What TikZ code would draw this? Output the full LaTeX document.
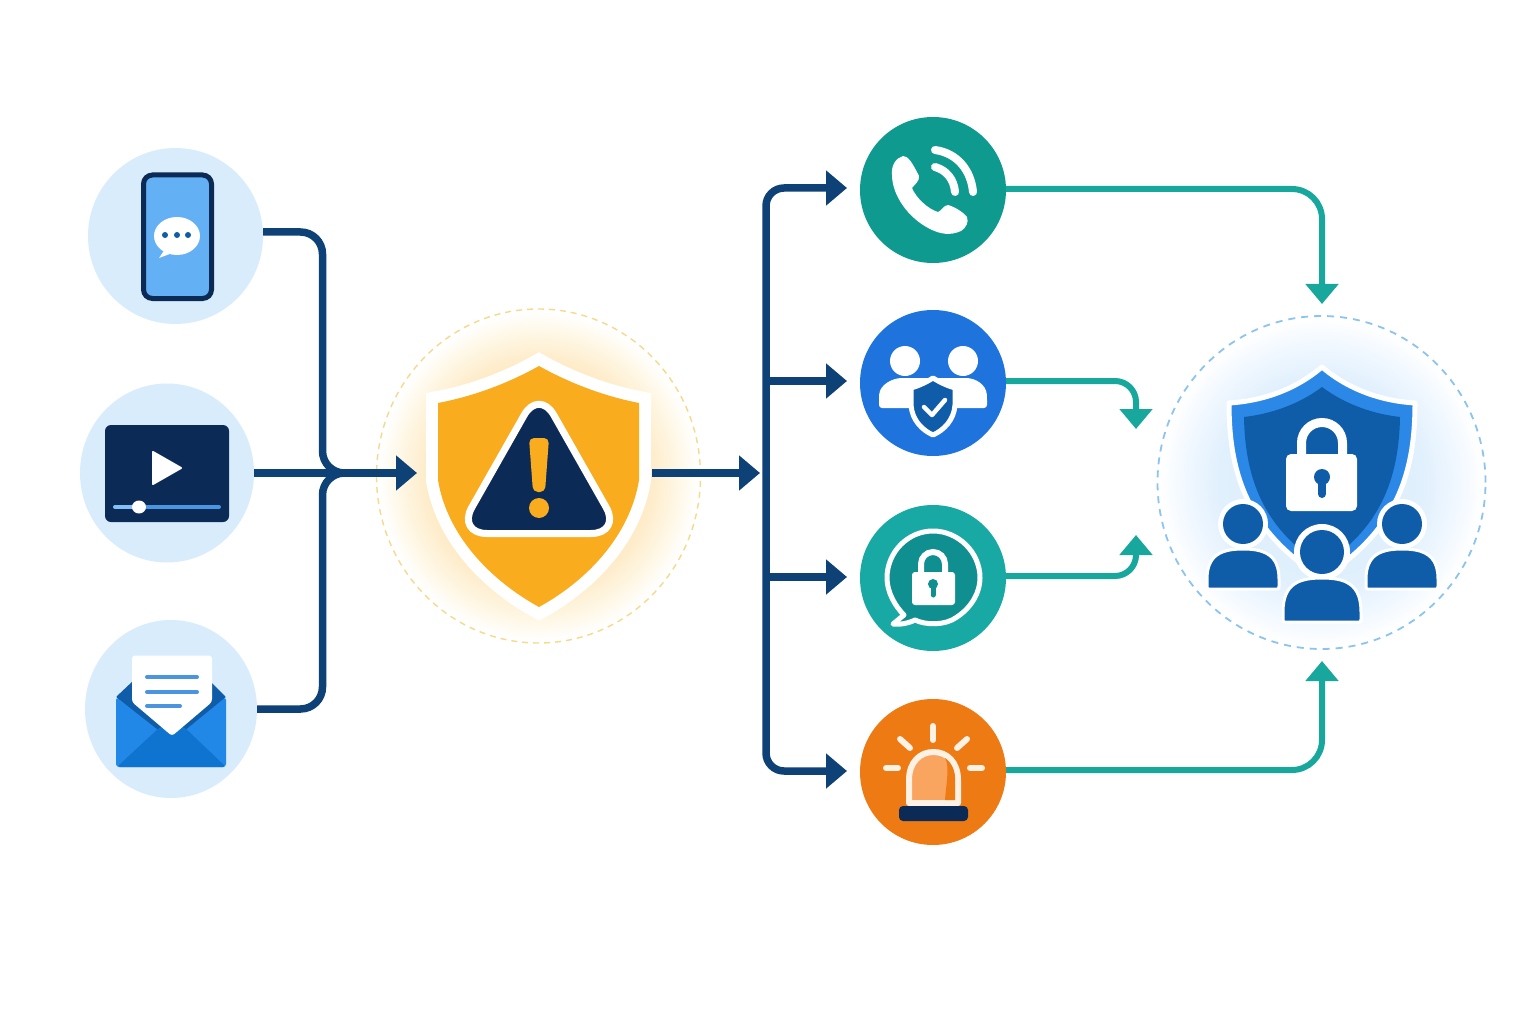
\documentclass[tikz,border=0pt]{standalone}
\usetikzlibrary{arrows.meta,shapes.geometric}
\definecolor{flowblue}{HTML}{0E4277}
\definecolor{flowteal}{HTML}{17A79D}
\definecolor{paleblue}{HTML}{D9ECFC}
\definecolor{navy}{HTML}{0B2A55}
\definecolor{amber}{HTML}{F8AC1E}
\definecolor{hubdark}{HTML}{0F5CA8}
\definecolor{hubmid}{HTML}{2B88E6}
\definecolor{skyblue}{HTML}{64B0F5}
\definecolor{barblue}{HTML}{4A94E0}
\definecolor{chteal}{HTML}{0F9A90}
\definecolor{chblue}{HTML}{1E74DC}
\definecolor{chaqua}{HTML}{18A9A4}
\definecolor{chorange}{HTML}{EE7A14}
\definecolor{cream}{HTML}{FFF1E4}
\definecolor{halogold}{HTML}{F6D98A}
\definecolor{haloblue}{HTML}{8CC4F0}
\definecolor{chatdark}{HTML}{0F8F90}
\definecolor{domefill}{HTML}{F9A560}
\definecolor{envfront}{HTML}{2288E8}
\definecolor{envlow}{HTML}{0E74D0}
\pgfdeclareradialshading{glowamber}{\pgfpoint{0bp}{0bp}}{rgb(0bp)=(0.99,0.89,0.70); rgb(17bp)=(0.995,0.92,0.78); rgb(21.5bp)=(0.998,0.97,0.90); rgb(24.7bp)=(1,1,1); rgb(50bp)=(1,1,1)}
\pgfdeclareradialshading{glowblue}{\pgfpoint{0bp}{0bp}}{rgb(0bp)=(0.87,0.93,0.99); rgb(15.5bp)=(0.88,0.94,0.99); rgb(20.5bp)=(0.94,0.97,1); rgb(24.7bp)=(1,1,1); rgb(50bp)=(1,1,1)}
\tikzset{
  srccircle/.style={ellipse,fill=paleblue,inner sep=0pt,outer sep=0pt},
  chcircle/.style={circle,inner sep=0pt,outer sep=0pt,minimum size=146pt},
  port/.style={inner sep=0pt,outer sep=0pt,draw=none},
  flow/.style={draw=flowblue,line width=7.5pt},
  flowtip/.style={flow,-{Triangle[length=21pt,width=34pt]}},
  tealflow/.style={draw=flowteal,line width=6pt,-{Triangle[length=20pt,width=32pt]}},
  ray/.style={draw=cream,line width=6pt,line cap=round},
}
\newcommand{\hubperson}[7]{% x, head y, head r, half width, top, bottom, ring
  \fill[white] (#1,#2) circle[radius=#3pt+#7pt];
  \filldraw[draw=white,line width=3pt,line join=round,fill=hubdark]
    ({#1-#4+2},#6) .. controls ({#1-#4},#6) .. ({#1-#4},{#6-3}) -- ({#1-#4},{#6-10}) .. controls ({#1-#4},{#5+6}) and ({#1-0.6*#4},#5) .. (#1,#5)
    .. controls ({#1+0.6*#4},#5) and ({#1+#4},{#5+6}) .. ({#1+#4},{#6-10}) -- ({#1+#4},{#6-3}) .. controls ({#1+#4},#6) .. ({#1+#4-2},#6) -- cycle;
  \fill[hubdark] (#1,#2) circle[radius=#3pt];
}
\begin{document}
\begin{tikzpicture}[x=1pt,y=-1pt]
\useasboundingbox (0,0) rectangle (1536,1024);
\fill[white] (0,0) rectangle (1536,1024);

% halos
\shade[shading=glowamber] (538.5,476) ellipse[x radius=162pt,y radius=167pt];
\draw[draw=halogold,line width=1.4pt,dash pattern=on 6pt off 5pt] (538.5,476) ellipse[x radius=162pt,y radius=167pt];
\shade[shading=glowblue] (1321.5,482.5) ellipse[x radius=164pt,y radius=166.5pt];
\draw[draw=haloblue,line width=1.8pt,dash pattern=on 7pt off 6pt] (1321.5,482.5) ellipse[x radius=164pt,y radius=166.5pt];

% nodes
\node[srccircle,minimum width=175pt,minimum height=176pt] (src1) at (175.5,236) {};
\node[srccircle,minimum width=174pt,minimum height=179pt] (src2) at (167,473) {};
\node[srccircle,minimum width=172pt,minimum height=178pt] (src3) at (171,709) {};
\node[chcircle,fill=chteal] (ch1) at (933,190) {};
\node[chcircle,fill=chblue] (ch2) at (933,383) {};
\node[chcircle,fill=chaqua] (ch3) at (933,578) {};
\node[chcircle,fill=chorange] (ch4) at (933,772) {};
\node[port,minimum width=235pt,minimum height=10pt] (alert) at (534.5,473) {};
\node[port,minimum width=10pt,minimum height=357pt] (hub) at (1322,482.5) {};
\coordinate (busin) at (760,473);
\coordinate (bus) at (766,473);
\coordinate (merge) at (352,473);
\coordinate (hubleft1) at (1136,429);
\coordinate (hubleft2) at (1136,535);

% input connectors
\draw[flow,rounded corners=22pt] ([yshift=4pt]src1.east) -- (322.5,232) -- (322.5,473) -- (merge);
\draw[flow,rounded corners=22pt] (src3.east) -- (322.5,709) -- (322.5,473) -- (merge);
\draw[flowtip] (src2.east) -- (alert.west);
\draw[flowtip] (alert.east) -- (busin);

% bus
\draw[flowtip,rounded corners=18pt] (bus) -- (766,188) -- ([xshift=-13pt,yshift=2pt]ch1.west);
\draw[flowtip,rounded corners=18pt] (bus) -- (766,771) -- ([xshift=-13pt,yshift=1pt]ch4.west);
\draw[flowtip] (766,381) -- ([xshift=-13pt,yshift=2pt]ch2.west);
\draw[flowtip] (766,577) -- ([xshift=-13pt,yshift=1pt]ch3.west);

% output connectors
\draw[tealflow,rounded corners=30pt] ([yshift=1pt]ch1.east) -- (1322,189) -- (hub.north);
\draw[tealflow,rounded corners=21pt] ([yshift=2pt]ch2.east) -- (1136,381) -- (hubleft1);
\draw[tealflow,rounded corners=21pt] ([yshift=2pt]ch3.east) -- (1136,576) -- (hubleft2);
\draw[tealflow,rounded corners=30pt] ([yshift=2pt]ch4.east) -- (1322,770) -- (hub.south);

% phone icon
\filldraw[draw=navy,line width=5pt,fill=skyblue,rounded corners=9pt] (143.5,175) rectangle (211.5,298.5);
\fill[white] (177,236) ellipse[x radius=23pt,y radius=19pt];
\fill[white] (165,249) -- (159,258) -- (175,252) -- cycle;
\fill[hubdark] (165,235) circle[radius=3pt] (177,235) circle[radius=3pt] (188,235) circle[radius=3pt];

% video icon
\fill[navy,rounded corners=6pt] (105,425) rectangle (229,522);
\fill[white,draw=white,line width=2pt,line join=round] (153,452) -- (181,468) -- (153,484) -- cycle;
\draw[barblue,line width=4pt,line cap=round] (139,507) -- (219,507);
\draw[skyblue!80!white,line width=4pt,line cap=round] (115,507) -- (139,507);
\fill[white] (139,507) ellipse[x radius=7pt,y radius=6.5pt];

% envelope icon
\fill[hubdark,rounded corners=1pt] (116,697) -- (133,681) -- (210,681) -- (226,697) -- (172,745) -- cycle;
\fill[envfront,rounded corners=3pt] (116,697) -- (172,741) -- (226,697) -- (226,767) -- (116,767) -- cycle;
\fill[envlow,rounded corners=3pt] (117,767) -- (160,727) -- (184,727) -- (226,767) -- cycle;
\fill[white,rounded corners=3pt] (132,655.5) -- (212,655.5) -- (212,702) -- (172,736) -- (132,702) -- cycle;
\draw[barblue,line width=4pt,line cap=round] (147,677) -- (197,677) (147,692) -- (197,692) (147,706) -- (180,706);

% alert shield
\draw[draw=white,line width=24pt,miter limit=10,fill=white]
  (539,366) .. controls (505,385) and (470,397) .. (438,403) -- (438,480) .. controls (447,535) and (490,580) .. (539,607)
  .. controls (588,580) and (630,535) .. (639,480) -- (639,403) .. controls (608,397) and (573,385) .. (539,366) -- cycle;
\fill[amber]
  (539,366) .. controls (505,385) and (470,397) .. (438,403) -- (438,480) .. controls (447,535) and (490,580) .. (539,607)
  .. controls (588,580) and (630,535) .. (639,480) -- (639,403) .. controls (608,397) and (573,385) .. (539,366) -- cycle;
\filldraw[draw=white,line width=7pt,fill=navy,rounded corners=30pt] (539,389) -- (621,533.5) -- (457,533.5) -- cycle;
\fill[amber,rounded corners=5pt] (529,438) -- (549,438) -- (545,492) -- (533,492) -- cycle;
\fill[amber] (539,508) circle[radius=10pt];

% call icon
\fill[white] (892,175) .. controls (891,165) and (896,158) .. (903,156) .. controls (908,156) and (912,162) .. (919,176)
  .. controls (920,181) and (914,185) .. (912,188) .. controls (916,198) and (928,209) .. (938,212)
  .. controls (941,211) and (944,205) .. (948,205) .. controls (955,207) and (963,212) .. (967,217)
  .. controls (969,222) and (966,228) .. (961,231) .. controls (950,236) and (940,234) .. (930,229)
  .. controls (908,218) and (892,195) .. (892,175) -- cycle;
\draw[white,line width=8pt,line cap=round] (935,150) .. controls (957,153) and (971,170) .. (973,192);
\draw[white,line width=8pt,line cap=round] (935,167) .. controls (946,170) and (954,179) .. (955,192);

% team icon
\fill[white] (905,361) circle[radius=15pt] (963,361) circle[radius=15pt];
\fill[white,rounded corners=3pt] (879,408) -- (879,397) .. controls (880,385) and (892,378) .. (905,378) -- (963,378) .. controls (976,378) and (986,385) .. (987,397) -- (987,408) -- cycle;
\filldraw[draw=white,line width=5pt,line join=round,fill=hubdark]
  (933,378) .. controls (925,383) and (918,386) .. (911,388) -- (911,405) .. controls (912,420) and (922,430) .. (933,435)
  .. controls (944,430) and (954,420) .. (955,405) -- (955,388) .. controls (948,386) and (941,383) .. (933,378) -- cycle;
\draw[white,line width=4.5pt,line cap=round,line join=round] (924,407) -- (932,415) -- (945,400);

% secure chat icon
\filldraw[draw=white,line width=5pt,line join=round,fill=chatdark]
  (904,615) -- (893,624) .. controls (900,625) and (909,623) .. (915,620) .. controls (925,625) and (945,626) .. (957,617)
  .. controls (972,607) and (980,592) .. (980,578) .. controls (980,552) and (958,531) .. (933,531)
  .. controls (908,531) and (887,552) .. (887,578) .. controls (887,592) and (895,606) .. (904,615) -- cycle;
\draw[white,line width=6pt] (921,575) -- (921,564) arc[start angle=180,end angle=0,radius=12pt] -- (945,575);
\fill[white,rounded corners=3pt] (912,572) rectangle (955,605);
\fill[chatdark] (933,584) circle[radius=5pt];
\draw[chatdark,line width=5pt,line cap=round] (933,585) -- (933,595);

% siren icon
\draw[ray] (933,726) -- (933,740);
\draw[ray] (900,739) -- (910,748);
\draw[ray] (967,739) -- (957,748);
\draw[ray] (886,768) -- (898,768);
\draw[ray] (970,768) -- (982,768);
\filldraw[draw=cream,line width=6pt,fill=domefill,line join=round] (909,803) -- (909,780) .. controls (909,762) and (920,752) .. (933.5,752) .. controls (947,752) and (958,762) .. (958,780) -- (958,803) -- cycle;
\fill[chorange] (945,758) .. controls (950,766) and (946,785) .. (945,800) -- (955,800) -- (955,778) .. controls (955,770) and (951,762) .. (945,758) -- cycle;
\fill[navy,rounded corners=4pt] (899,806) rectangle (968,821);

% hub shield
\filldraw[draw=white,line width=5pt,line join=round,fill=hubmid]
  (1322,367) .. controls (1295,390) and (1262,401) .. (1229,403) .. controls (1229,470) and (1245,530) .. (1322,578)
  .. controls (1399,530) and (1415,470) .. (1415,403) .. controls (1382,401) and (1349,390) .. (1322,367) -- cycle;
\fill[hubdark]
  (1322,387) .. controls (1298,405) and (1270,414) .. (1244,417) .. controls (1245,480) and (1265,530) .. (1322,565)
  .. controls (1379,530) and (1399,480) .. (1400,417) .. controls (1374,414) and (1346,405) .. (1322,387) -- cycle;
\draw[white,line width=9pt] (1301.5,458) -- (1301.5,443) arc[start angle=180,end angle=0,radius=20.5pt] -- (1342.5,458);
\fill[white,rounded corners=5pt] (1286,454) rectangle (1357,511);
\fill[hubdark] (1322,477) circle[radius=8pt];
\draw[hubdark,line width=8pt,line cap=round] (1322,478) -- (1322,494);
\hubperson{1243}{524}{20}{36}{549}{589}{5}
\hubperson{1402}{524}{20}{36}{549}{589}{5}
\hubperson{1322}{552}{22}{39}{578}{622}{6}
\end{tikzpicture}
\end{document}
